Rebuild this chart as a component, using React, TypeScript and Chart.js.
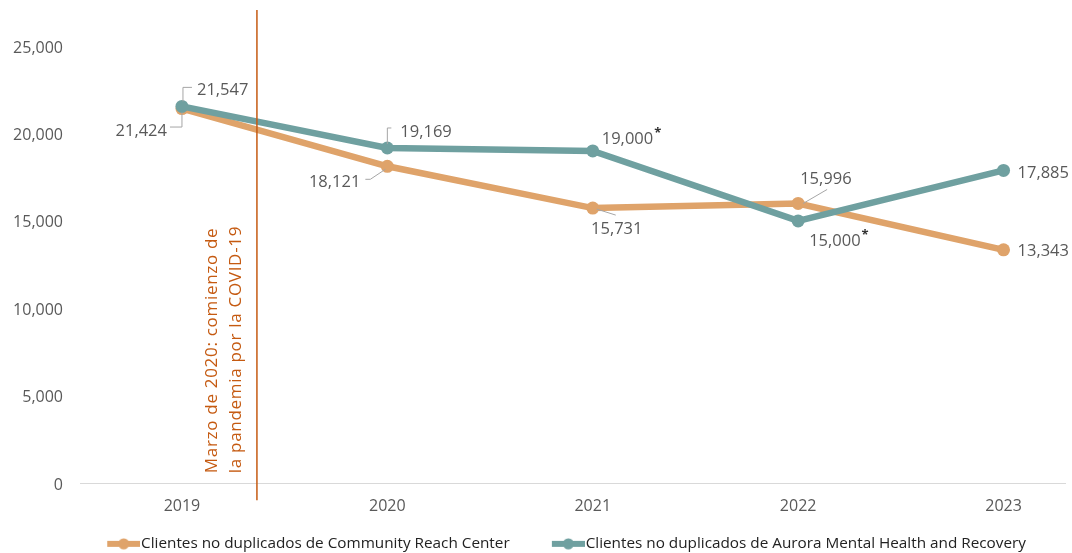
import React, { useEffect, useRef } from "react";
import { Chart, registerables } from "chart.js";

Chart.register(...registerables);

// ---------- data ----------
const years = ["2019", "2020", "2021", "2022", "2023"];
const crcValues = [21424, 18121, 15731, 15996, 13343];
const amhrValues = [21547, 19169, 19000, 15000, 17885];
const crcNotes = ["", "", "", "", ""];
const amhrNotes = ["", "", "*", "*", ""];
const yTicks = [0, 5000, 10000, 15000, 20000, 25000];
const seriesNames = [
  "Clientes no duplicados de Community Reach Center",
  "Clientes no duplicados de Aurora Mental Health and Recovery",
];
const annotationLines = ["Marzo de 2020: comienzo de", "la pandemia por la COVID-19"];
const pandemicX = 0.365; // position between 2019 and 2020 on the category index axis

// ---------- styles ----------
const FONT = "'Open Sans', sans-serif";
const ORANGE = "#DFA36A";
const TEAL = "#6FA0A0";
const RUST = "#C55A11";
const GRAY = "#595959";
const LEGEND_FONT = 15.3;
const LEGEND_BOX = 64.35;

type LabelCfg = { dx: number; dy: number; align: CanvasTextAlign; leader?: number[][] };
const labelLayout: LabelCfg[][] = [
  [
    { dx: -15, dy: 21.5, align: "right", leader: [[0, 4], [0, 18.5], [-12, 18.5]] },
    { dx: -27, dy: 14, align: "right", leader: [[-2, 3], [-17, 13], [-22, 13]] },
    { dx: 24, dy: 20, align: "center", leader: [[4, 1], [23, 7]] },
    { dx: 2, dy: -26, align: "left", leader: [[5, 0], [29, -14]] },
    { dx: 14, dy: 0, align: "left" },
  ],
  [
    { dx: 15, dy: -18, align: "left", leader: [[1, -5], [1, -19], [10, -19]] },
    { dx: 13, dy: -17, align: "left", leader: [[0, -4], [0, -20], [4, -20]] },
    { dx: 9, dy: -13, align: "left" },
    { dx: 11, dy: 19, align: "left" },
    { dx: 14, dy: 1, align: "left" },
  ],
];

const fmt = (v: number) => v.toLocaleString("en-US");

// Legend marker: line with a dot, placed in the right-hand part of the image so it
// sits right before the legend text.
function makeMarker(color: string): HTMLCanvasElement {
  const c = document.createElement("canvas");
  const w = Math.round(LEGEND_BOX + LEGEND_FONT - 2);
  c.width = w;
  c.height = 12;
  const g = c.getContext("2d")!;
  g.fillStyle = color;
  const start = w - 33;
  g.fillRect(start, 3, 33, 6);
  g.beginPath();
  g.arc(start + 16.5, 6, 5.5, 0, Math.PI * 2);
  g.fill();
  return c;
}

const pointLabelPlugin = {
  id: "pointLabels",
  afterDatasetsDraw(chart: any) {
    const ctx: CanvasRenderingContext2D = chart.ctx;
    const valueSets = [crcValues, amhrValues];
    const noteSets = [crcNotes, amhrNotes];
    ctx.save();
    chart.data.datasets.forEach((_ds: any, di: number) => {
      const meta = chart.getDatasetMeta(di);
      meta.data.forEach((pt: any, i: number) => {
        const cfg = labelLayout[di][i];
        const x = pt.x;
        const y = pt.y;
        if (cfg.leader) {
          ctx.beginPath();
          ctx.strokeStyle = "#A6A6A6";
          ctx.lineWidth = 1;
          cfg.leader.forEach((p, k) => {
            if (k === 0) ctx.moveTo(x + p[0], y + p[1]);
            else ctx.lineTo(x + p[0], y + p[1]);
          });
          ctx.stroke();
        }
        const text = fmt(valueSets[di][i]);
        ctx.font = `16.5px ${FONT}`;
        ctx.fillStyle = GRAY;
        ctx.textBaseline = "middle";
        ctx.textAlign = cfg.align;
        const ty = y + cfg.dy + 1.5;
        ctx.fillText(text, x + cfg.dx, ty);
        const note = noteSets[di][i];
        if (note) {
          const w = ctx.measureText(text).width;
          let startX = x + cfg.dx;
          if (cfg.align === "center") startX -= w / 2;
          if (cfg.align === "right") startX -= w;
          ctx.font = `bold 13px ${FONT}`;
          ctx.fillStyle = "#333333";
          ctx.textAlign = "left";
          ctx.fillText(note, startX + w + 1, ty - 6);
        }
      });
    });
    ctx.restore();
  },
};

const pandemicPlugin = {
  id: "pandemicLine",
  afterDatasetsDraw(chart: any) {
    const ctx: CanvasRenderingContext2D = chart.ctx;
    const xs = chart.scales.x;
    const area = chart.chartArea;
    const px = xs.getPixelForValue(pandemicX);
    ctx.save();
    ctx.strokeStyle = RUST;
    ctx.lineWidth = 1.5;
    ctx.beginPath();
    ctx.moveTo(px, area.top - 36);
    ctx.lineTo(px, area.bottom + 17);
    ctx.stroke();
    ctx.fillStyle = RUST;
    ctx.font = `17px ${FONT}`;
    (ctx as any).letterSpacing = "0.7px";
    ctx.textAlign = "left";
    ctx.textBaseline = "middle";
    annotationLines.forEach((line, k) => {
      ctx.save();
      ctx.translate(px - 45 + k * 24, area.bottom - 10);
      ctx.rotate(-Math.PI / 2);
      ctx.fillText(line, 0, 0);
      ctx.restore();
    });
    ctx.restore();
  },
};

export default function App() {
  const ref = useRef<HTMLCanvasElement | null>(null);

  useEffect(() => {
    if (!ref.current) return;
    const markers = [makeMarker(ORANGE), makeMarker(TEAL)];
    const chart = new Chart(ref.current, {
      type: "line",
      data: {
        datasets: [
          {
            label: seriesNames[0],
            data: crcValues.map((v, i) => ({ x: i, y: v })),
            borderColor: ORANGE,
            backgroundColor: ORANGE,
            borderWidth: 6.5,
            pointRadius: 6.5,
            pointBorderWidth: 0,
            pointBackgroundColor: ORANGE,
            order: 1,
          },
          {
            label: seriesNames[1],
            data: amhrValues.map((v, i) => ({ x: i, y: v })),
            borderColor: TEAL,
            backgroundColor: TEAL,
            borderWidth: 6.5,
            pointRadius: 6.5,
            pointBorderWidth: 0,
            pointBackgroundColor: TEAL,
            order: 0,
          },
        ],
      },
      options: {
        animation: false,
        responsive: true,
        maintainAspectRatio: false,
        layout: { padding: { left: 0, right: -23, top: 46, bottom: -8.5 } },
        scales: {
          x: {
            type: "linear",
            min: -0.4964,
            max: 4.3017,
            afterBuildTicks: (s: any) => {
              s.ticks = years.map((_, i) => ({ value: i }));
            },
            afterFit: (s: any) => {
              s.height = 49;
            },
            ticks: {
              color: GRAY,
              font: { family: FONT, size: 16 },
              padding: 14,
              callback: (v: any) => years[v as number] ?? "",
            },
            grid: { display: false, drawTicks: false },
            border: { display: true, color: "#D9D9D9", width: 1 },
          },
          y: {
            min: 0,
            max: 25000,
            afterBuildTicks: (s: any) => {
              s.ticks = yTicks.map((v) => ({ value: v }));
            },
            afterFit: (s: any) => {
              s.width = 80;
            },
            ticks: {
              color: GRAY,
              font: { family: FONT, size: 16 },
              padding: 17,
              labelOffset: 2,
              callback: (v: any) => fmt(v as number),
            },
            grid: { display: false, drawTicks: false },
            border: { display: false },
          },
        },
        plugins: {
          tooltip: { enabled: false },
          legend: {
            position: "bottom",
            labels: {
              usePointStyle: true,
              pointStyleWidth: LEGEND_BOX,
              padding: 4,
              color: "#222222",
              font: { family: FONT, size: LEGEND_FONT },
              generateLabels: (c: any) =>
                c.data.datasets.map((ds: any, i: number) => ({
                  text: ds.label,
                  pointStyle: markers[i],
                  fillStyle: ds.borderColor,
                  strokeStyle: ds.borderColor,
                  lineWidth: 0,
                  hidden: false,
                  datasetIndex: i,
                  fontColor: "#222222",
                })),
            },
          },
        },
      },
      plugins: [pandemicPlugin, pointLabelPlugin],
    });
    return () => chart.destroy();
  }, []);

  return (
    <div style={{ position: "fixed", left: 0, top: 0, width: 1072, height: 553, background: "#fff" }}>
      <canvas ref={ref} />
    </div>
  );
}
